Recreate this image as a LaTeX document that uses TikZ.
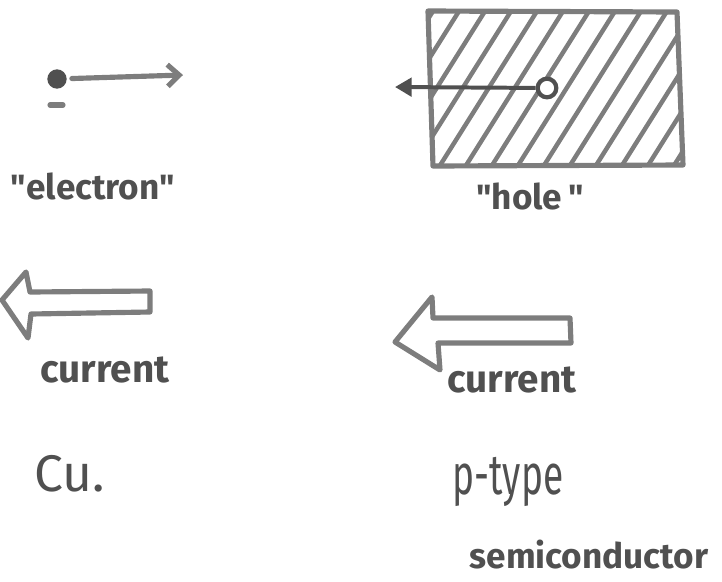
\documentclass[tikz,border=0pt]{standalone}
\usepackage{fontspec}
\setmainfont{Fira Sans}
\usepackage{xcolor}
\usetikzlibrary{positioning, arrows.meta, calc}
\definecolor{pencil}{RGB}{125,125,125}
\definecolor{ink}{RGB}{80,80,80}

\begin{document}
\begin{tikzpicture}[
    x=0.3mm, y=-0.3mm,
    stroke/.style={draw=pencil, line width=4.4pt, line cap=round, line join=round},
    hatch/.style={draw=pencil, line width=3.8pt, line cap=round},
    hand/.style={text=ink, inner sep=0pt, font=\bfseries\fontsize{30}{34}\selectfont},
    big/.style={hand, font=\fontsize{44}{50}\selectfont},
    arr/.style={stroke, -{Straight Barb[length=3.5mm, width=6.5mm]}},
    holearr/.style={draw=ink, line width=3.4pt, -{Triangle[length=5mm, width=5.5mm]}},
]
\useasboundingbox (0,0) rectangle (722,581);

% === LEFT: Cu ===
\node[circle, fill=ink, inner sep=0pt, minimum size=5.8mm] (elec) at (57,79) {};
\draw[stroke] (50,105) -- (63,105);
\coordinate (etip) at (183,75);
\draw[arr, shorten <=1.5mm] (elec) -- (etip);
\node[hand] (elabel) at (93,186) {\textquotedbl electron\textquotedbl};

% --- current arrow (left) ---
\draw[stroke] (2,300) -- (26,272) -- (30,292) -- (150,291) -- (150,312)
    -- (31,314) -- (28,338) -- cycle;
\node[hand, font=\bfseries\fontsize{33}{36}\selectfont] (curL) at (105,370) {current};
\node[big] (cu) at (70,474) {Cu.};

% === RIGHT: p-type ===
\coordinate (r1) at (428,11);
\coordinate (r2) at (677,12);
\coordinate (r3) at (683,165);
\coordinate (r4) at (433,166);
\begin{scope}
\clip (r1) -- (r2) -- (r3) -- (r4) -- cycle;
\foreach \i in {0,...,16}
    \draw[hatch] (330+\i*26,175) -- (440+\i*26,0);
\end{scope}
\draw[stroke] (r1) -- (r2) -- (r3) -- (r4) -- cycle;

\node[circle, draw=ink, line width=3.6pt, fill=white, inner sep=0pt, minimum size=5.6mm] (hole) at (547,88) {};
\coordinate (htip) at (395,87);
\draw[holearr] (hole) -- (htip);
\node[hand] (hlabel) at (530,196) {\textquotedbl hole\,\textquotedbl};

% --- current arrow (right) ---
\draw[stroke] (395,342) -- (432,297) -- (433,318) -- (570,318) -- (571,343)
    -- (438,343) -- (440,370) -- cycle;
\node[hand, font=\bfseries\fontsize{33}{36}\selectfont] (curR) at (512,380) {current};
\node[big] (ptype) at (508,482) {\scalebox{0.72}[1.1]{p-type}};
\node[hand] (semi) at (589,555) {semiconductor};
\end{tikzpicture}
\end{document}
